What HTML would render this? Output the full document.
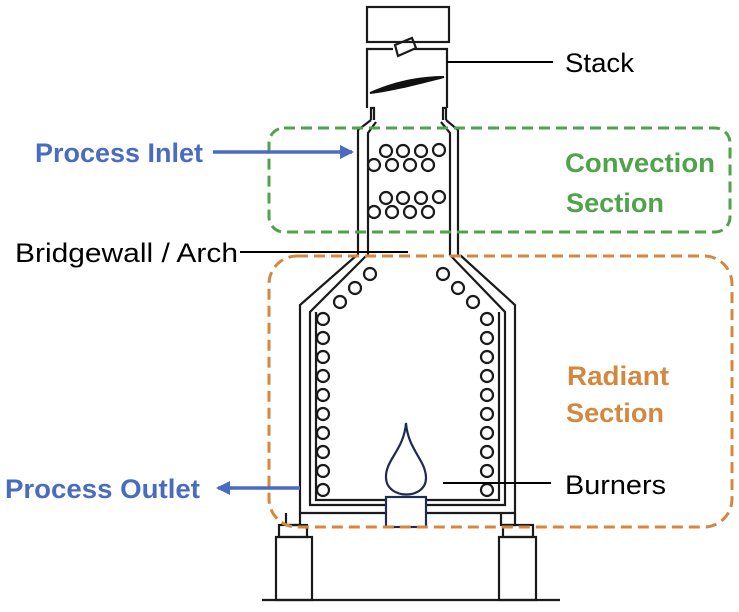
<!DOCTYPE html>
<html><head><meta charset="utf-8"><style>
html,body{margin:0;padding:0;background:#fff}
svg{display:block}
text{font-family:"Liberation Sans",sans-serif;font-size:27px}
</style></head><body>
<svg width="739" height="612" viewBox="0 0 739 612" xmlns="http://www.w3.org/2000/svg">
<defs>
<marker id="ab" markerWidth="14" markerHeight="14" refX="12" refY="7" orient="auto" markerUnits="userSpaceOnUse"><path d="M0,0 L14,7 L0,14 z" fill="#4a6cc0"/></marker>
</defs>
<g fill="none" stroke="#1a1a1a" stroke-width="2.2">
<rect x="367" y="7" width="82" height="35"/>
<path d="M367,108 V49 H393 M414,49 H447 V108"/>
<path d="M395,45 L412,38 L416,48 L398,56 Z"/>
<path d="M371,120 V108 L374,108 V120 M443,120 V108 L446,108 V120"/>
<path d="M371,120 L358,130 V255 M446,120 L458,130 V255"/>
<path d="M376,122 L368,133 V255 M441,122 L450,133 V255"/>
<path d="M357,255 L300,305 V513 H515 V305 L460,255"/>
<path d="M367,255 L310,312 V505 H505 V312 L450,255"/>
<path d="M316,312 V500 H499 V312"/>
</g>
<path d="M370,93 C395,82 420,77 444,77 C420,83 395,90 370,93 Z" fill="#111" stroke="#111" stroke-width="2"/>
<g fill="none" stroke="#1a1a1a" stroke-width="2.2">
<circle cx="386" cy="151" r="6"/><circle cx="403" cy="151" r="6"/><circle cx="421" cy="151" r="6"/><circle cx="439" cy="150" r="6"/>
<circle cx="374" cy="165" r="6"/><circle cx="392" cy="165" r="6"/><circle cx="410" cy="165" r="6"/><circle cx="428" cy="165" r="6"/>
<circle cx="386" cy="198" r="6"/><circle cx="403" cy="198" r="6"/><circle cx="421" cy="198" r="6"/><circle cx="439" cy="197" r="6"/>
<circle cx="374" cy="212" r="6"/><circle cx="392" cy="212" r="6"/><circle cx="410" cy="212" r="6"/><circle cx="428" cy="212" r="6"/>
<circle cx="370" cy="274" r="6"/><circle cx="355" cy="288" r="6"/><circle cx="340" cy="302" r="6"/>
<circle cx="443" cy="274" r="6"/><circle cx="458" cy="288" r="6"/><circle cx="473" cy="302" r="6"/>
<g id="col">
<circle cx="323" cy="319" r="6"/><circle cx="323" cy="338" r="6"/><circle cx="323" cy="357" r="6"/><circle cx="323" cy="376" r="6"/><circle cx="323" cy="395" r="6"/><circle cx="323" cy="414" r="6"/><circle cx="323" cy="433" r="6"/><circle cx="323" cy="452" r="6"/><circle cx="323" cy="471" r="6"/><circle cx="323" cy="490" r="6"/>
</g>
<use href="#col" x="164"/>
<path d="M286,513 V525 H300 V513 M501,513 V525 H515 V513"/>
<rect x="279" y="525" width="28" height="12"/>
<rect x="276" y="537" width="36" height="63"/>
<rect x="503" y="525" width="30" height="12"/>
<rect x="499" y="537" width="37" height="63"/>
<path d="M262,600 H560"/>
</g>
<g fill="#fff" stroke="#1f2b55" stroke-width="2.2">
<path d="M406,423 C404,450 385,460 386,478 C387,500 426,500 426,478 C426,460 408,450 406,423 Z"/>
<rect x="386" y="497" width="40" height="30"/>
</g>
<rect x="269" y="128" width="461" height="104" rx="15" fill="none" stroke="#4fa34b" stroke-width="3" stroke-dasharray="11,6"/>
<rect x="269" y="256" width="463" height="271" rx="28" fill="none" stroke="#d4873f" stroke-width="3" stroke-dasharray="11,6"/>
<g stroke="#000" stroke-width="2">
<path d="M447,62 H553"/><path d="M240,252 H408"/><path d="M443,483 H551"/>
</g>
<g stroke="#4a6cc0" stroke-width="3.5">
<path d="M213,152 H352" marker-end="url(#ab)"/>
<path d="M300,488 H218" marker-end="url(#ab)"/>
</g>
<g lengthAdjust="spacingAndGlyphs">
<text x="565" y="72" textLength="69" lengthAdjust="spacingAndGlyphs">Stack</text>
<text x="15" y="262" textLength="223" lengthAdjust="spacingAndGlyphs">Bridgewall / Arch</text>
<text x="565" y="494" textLength="101" lengthAdjust="spacingAndGlyphs">Burners</text>
</g>
<g font-weight="bold">
<text x="35" y="162" fill="#4a6cc0" textLength="168" lengthAdjust="spacingAndGlyphs">Process Inlet</text>
<text x="5" y="498" fill="#4a6cc0" textLength="195" lengthAdjust="spacingAndGlyphs">Process Outlet</text>
<text x="565" y="172" fill="#4fa34b" textLength="150" lengthAdjust="spacingAndGlyphs">Convection</text>
<text x="566" y="212" fill="#4fa34b" textLength="98" lengthAdjust="spacingAndGlyphs">Section</text>
<text x="567" y="385" fill="#d4873f" textLength="102" lengthAdjust="spacingAndGlyphs">Radiant</text>
<text x="566" y="422" fill="#d4873f" textLength="98" lengthAdjust="spacingAndGlyphs">Section</text>
</g>
</svg>
</body></html>
